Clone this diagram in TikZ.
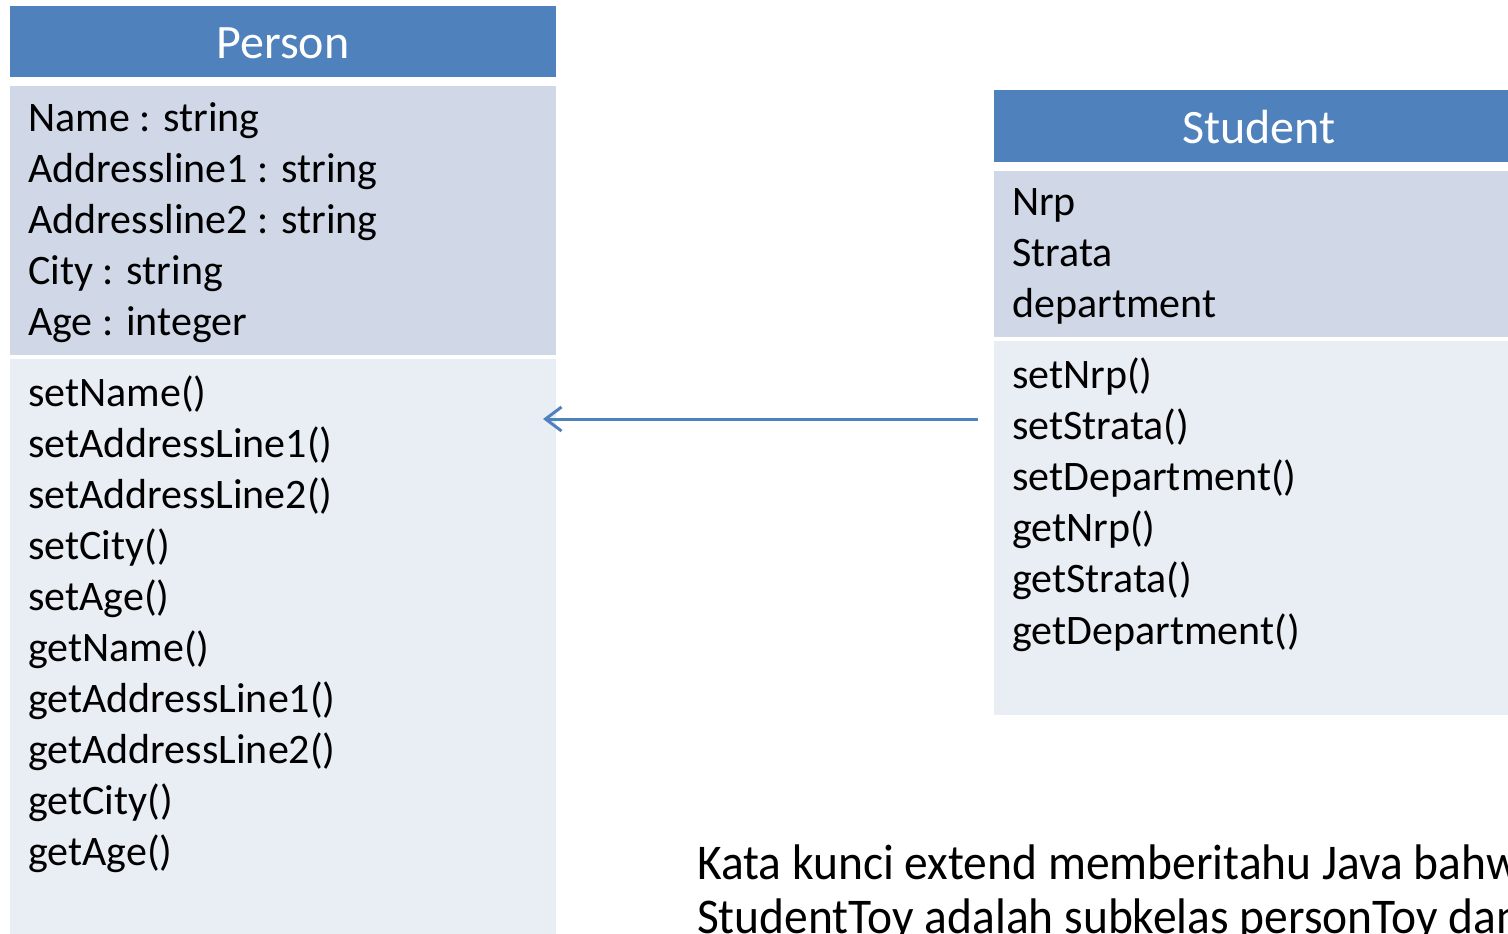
\documentclass[tikz,border=0pt]{standalone}
\usepackage{fontspec}
\setmainfont{Carlito}
\usetikzlibrary{arrows.meta}
\definecolor{hdr}{HTML}{4F81BD}
\definecolor{attr}{HTML}{D0D8E8}
\definecolor{meth}{HTML}{E9EDF4}
\tikzset{
  panel/.style={draw=none, inner sep=0, outer sep=0},
  hdrtext/.style={inner sep=0, text=white, font=\fontsize{48}{58}\selectfont},
  bodytext/.style={inner sep=0, anchor=base west, font=\fontsize{42}{51}\selectfont},
  notetext/.style={inner sep=0, anchor=base west, xscale=0.95, font=\fontsize{50}{58}\selectfont},
  inherit/.style={draw=hdr, line width=3pt, -{Straight Barb[length=16pt,width=24pt,line width=3pt]}}
}
\begin{document}
\begin{tikzpicture}[x=1pt,y=-1pt]
\useasboundingbox (0,0) rectangle (1508,934);
\clip (0,0) rectangle (1508,934);
% Person class
\path[fill=hdr] (10,6) rectangle (556,77);
\node[panel, minimum width=546pt, minimum height=71pt] (phead) at (283,41.5) {};
\path[fill=attr] (10,86) rectangle (556,355);
\node[panel, minimum width=546pt, minimum height=269pt] (pattr) at (283,220.5) {};
\path[fill=meth] (10,359) rectangle (556,940);
\node[panel, minimum width=546pt, minimum height=581pt] (pmeth) at (283,649.5) {};
\node[hdrtext, anchor=base] (ptitle) at (283,59) {Person};
\foreach \t [count=\i from 0] in {Name : string, Addressline1 : string, Addressline2 : string, City : string, Age : integer}
  \node[bodytext] (pa\i) at (28,131+51*\i) {\t};
\foreach \t [count=\i from 0] in {setName(), setAddressLine1(), setAddressLine2(), setCity(), setAge(), getName(), getAddressLine1(), getAddressLine2(), getCity(), getAge()}
  \node[bodytext] (pm\i) at (28,406+51.1*\i) {\t};
% Student class
\path[fill=hdr] (994,90) rectangle (1524,162);
\node[panel, minimum width=530pt, minimum height=72pt] (shead) at (1259,126) {};
\path[fill=attr] (994,171) rectangle (1524,337);
\node[panel, minimum width=530pt, minimum height=166pt] (sattr) at (1259,254) {};
\path[fill=meth] (994,341) rectangle (1524,715);
\node[panel, minimum width=530pt, minimum height=374pt] (smeth) at (1259,528) {};
\node[hdrtext, anchor=base] (stitle) at (1259,143) {Student};
\foreach \t [count=\i from 0] in {Nrp, Strata, department}
  \node[bodytext] (sa\i) at (1012,215+51*\i) {\t};
\foreach \t [count=\i from 0] in {setNrp(), setStrata(), setDepartment(), getNrp(), getStrata(), getDepartment()}
  \node[bodytext] (sm\i) at (1012,388+51.2*\i) {\t};
% inheritance arrow
\coordinate (astart) at (978,419);
\coordinate (aend) at (543,419);
\draw[inherit] (astart) -- (aend);
% note
\node[notetext] (note1) at (697,879) {Kata kunci extend memberitahu Java bahwa};
\node[notetext] (note2) at (697,933) {StudentToy adalah subkelas personToy dan};
\end{tikzpicture}
\end{document}
